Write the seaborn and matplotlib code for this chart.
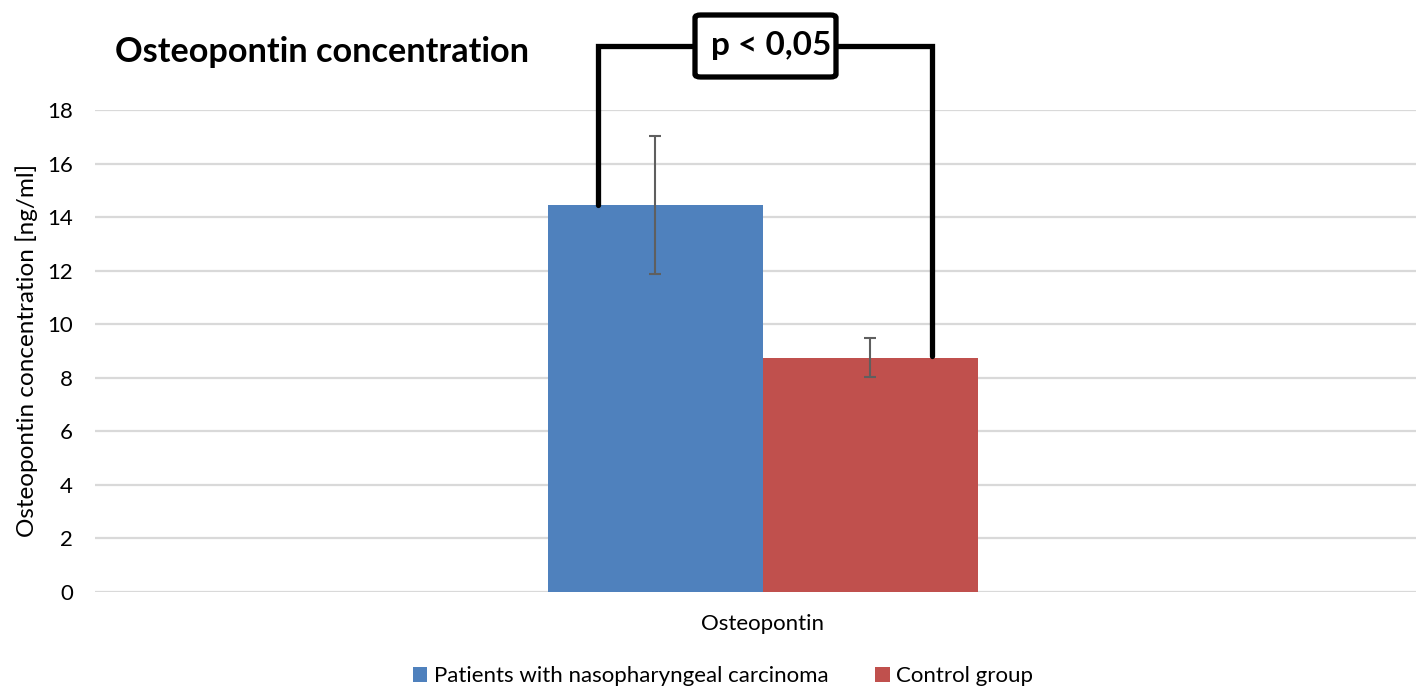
import matplotlib
matplotlib.use("Agg")
import matplotlib.pyplot as plt
import seaborn as sns
import pandas as pd
from matplotlib.patches import FancyBboxPatch

categories = ["Osteopontin"]
groups = ["Patients with nasopharyngeal carcinoma", "Control group"]
means = [14.44, 8.75]
errors = [2.58, 0.72]
yticks = [0, 2, 4, 6, 8, 10, 12, 14, 16, 18]
colors = ["#4F81BD", "#C0504D"]

df = pd.DataFrame({"marker": categories * len(groups), "group": groups, "value": means})

sns.set_theme(style="white")
plt.rcParams["font.family"] = ["Lato", "DejaVu Sans"]
plt.rcParams["text.color"] = "black"

fig = plt.figure(figsize=(14.16, 6.88), dpi=100)
ax = fig.add_axes([95 / 1416, 1 - 591.7 / 688, 1 - 95 / 1416, (591.7 - 110) / 688])

sns.barplot(data=df, x="marker", y="value", hue="group", palette=colors,
            errorbar=None, width=0.8, saturation=1, linewidth=0, ax=ax, legend=True)

# error bars at bar centres
bars = [p for p in ax.patches if p.get_height() > 0][:len(means)]
for p, m, e in zip(bars, means, errors):
    cx = p.get_x() + p.get_width() / 2
    ax.errorbar(cx, m, yerr=e, fmt="none", ecolor="#5f5f5f", elinewidth=1.5,
                capsize=4.5, capthick=1.5, zorder=5)

ax.set_ylim(0, 18)
ax.set_xlim(-1.2428, 1.2149)
ax.set_yticks(yticks)
ax.yaxis.grid(True, color="#d9d9d9", linewidth=1.6)
ax.set_axisbelow(True)
for s in ax.spines.values():
    s.set_visible(False)
ax.tick_params(axis="y", length=0, pad=16, labelsize=16, labelcolor="black")
ax.tick_params(axis="x", length=0, pad=16, labelsize=16, labelcolor="black")
ax.set_xlabel("")
ax.set_ylabel("Osteopontin concentration [ng/ml]", fontsize=17.5, labelpad=6.5, color="black")

# significance bracket
lx = bars[0].get_x() + bars[0].get_width() / 2 - 0.1075
rx = bars[1].get_x() + bars[1].get_width() / 2 + 0.115
top = 20.4
ax.plot([lx, lx, rx, rx], [means[0], top, top, means[1] + 0.07], color="black",
        linewidth=3.8, clip_on=False, solid_joinstyle="miter", zorder=6)
box = FancyBboxPatch((695 / 1416, 1 - 77 / 688), (836 - 695) / 1416, (77 - 15) / 688,
                     boxstyle="round,pad=0,rounding_size=0.004", transform=fig.transFigure,
                     facecolor="white", edgecolor="black", linewidth=3.8, zorder=7)
fig.patches.append(box)
fig.text(771 / 1416, 1 - 46 / 688, "p < 0,05", ha="center", va="center",
         fontsize=24, fontweight="bold", color="black", zorder=8)

fig.text(115 / 1416, 1 - 52 / 688, "Osteopontin concentration", ha="left", va="center",
         fontsize=24.7, fontweight="bold", color="black")

leg = ax.legend(loc="center", bbox_to_anchor=(723 / 1416, 1 - 676 / 688),
                bbox_transform=fig.transFigure, ncol=2, frameon=False, fontsize=16,
                handlelength=0.65, handleheight=0.65, handletextpad=0.3, columnspacing=2.1)
for t in leg.get_texts():
    t.set_color("black")

fig.savefig("out.png", dpi=100)
